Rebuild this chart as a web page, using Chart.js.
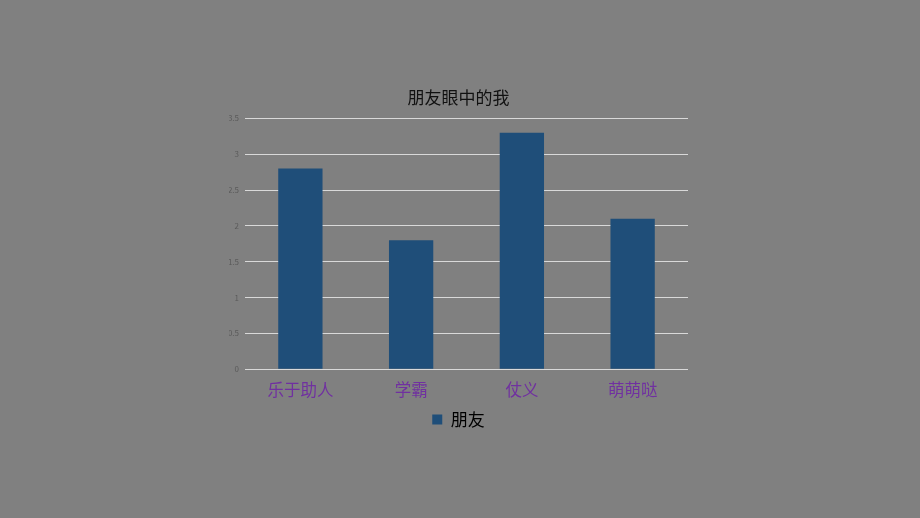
<!DOCTYPE html>
<html>
<head>
<meta charset="utf-8">
<script src="https://cdn.jsdelivr.net/npm/chart.js@4/dist/chart.umd.min.js"></script>
<style>
  html, body { margin: 0; padding: 0; background: #808080; }
  #wrap { width: 920px; height: 518px; }
</style>
</head>
<body>
<div id="wrap"><canvas id="mycanvas"></canvas></div>
<script>
var categories = ['乐于助人', '学霸', '仗义', '萌萌哒'];
var friendValues = [2.8, 1.8, 3.3, 2.1];
var seriesName = '朋友';
var chartTitle = '朋友眼中的我';

var ctx = document.getElementById('mycanvas');
var font = '"Noto Sans CJK SC", "Noto Sans", sans-serif';

new Chart(ctx, {
    type: 'bar',
    data: {
        labels: categories,
        datasets: [{
            label: seriesName,
            backgroundColor: '#1F4E79',
            borderWidth: 0,
            data: friendValues,
            categoryPercentage: 0.4,
            barPercentage: 1
        }]
    },
    options: {
        responsive: true,
        maintainAspectRatio: false,
        animation: false,
        layout: { padding: { top: 87, left: 229, right: 232, bottom: 80 } },
        plugins: {
            title: {
                display: true,
                text: chartTitle,
                color: '#111',
                font: { family: font, size: 17, weight: 'normal', lineHeight: 1.2 },
                padding: { top: 0, bottom: 11 }
            },
            legend: {
                position: 'bottom',
                labels: {
                    color: '#000',
                    boxWidth: 10,
                    boxHeight: 10,
                    padding: 8,
                    font: { family: font, size: 17 }
                }
            },
            tooltip: { enabled: false }
        },
        scales: {
            x: {
                grid: { display: false },
                border: { display: false },
                ticks: {
                    color: '#7030A0',
                    padding: 3,
                    font: { family: font, size: 16.5 }
                }
            },
            y: {
                min: 0,
                max: 3.5,
                afterFit: function(scale) { scale.width = 16; },
                grid: { color: '#D9D9D9', lineWidth: 1, drawTicks: false },
                border: { display: false },
                ticks: {
                    stepSize: 0.5,
                    color: '#5A5A5A',
                    padding: 6,
                    font: { family: font, size: 8 },
                    callback: function(v) { return String(v); }
                }
            }
        }
    }
});
</script>
</body>
</html>
